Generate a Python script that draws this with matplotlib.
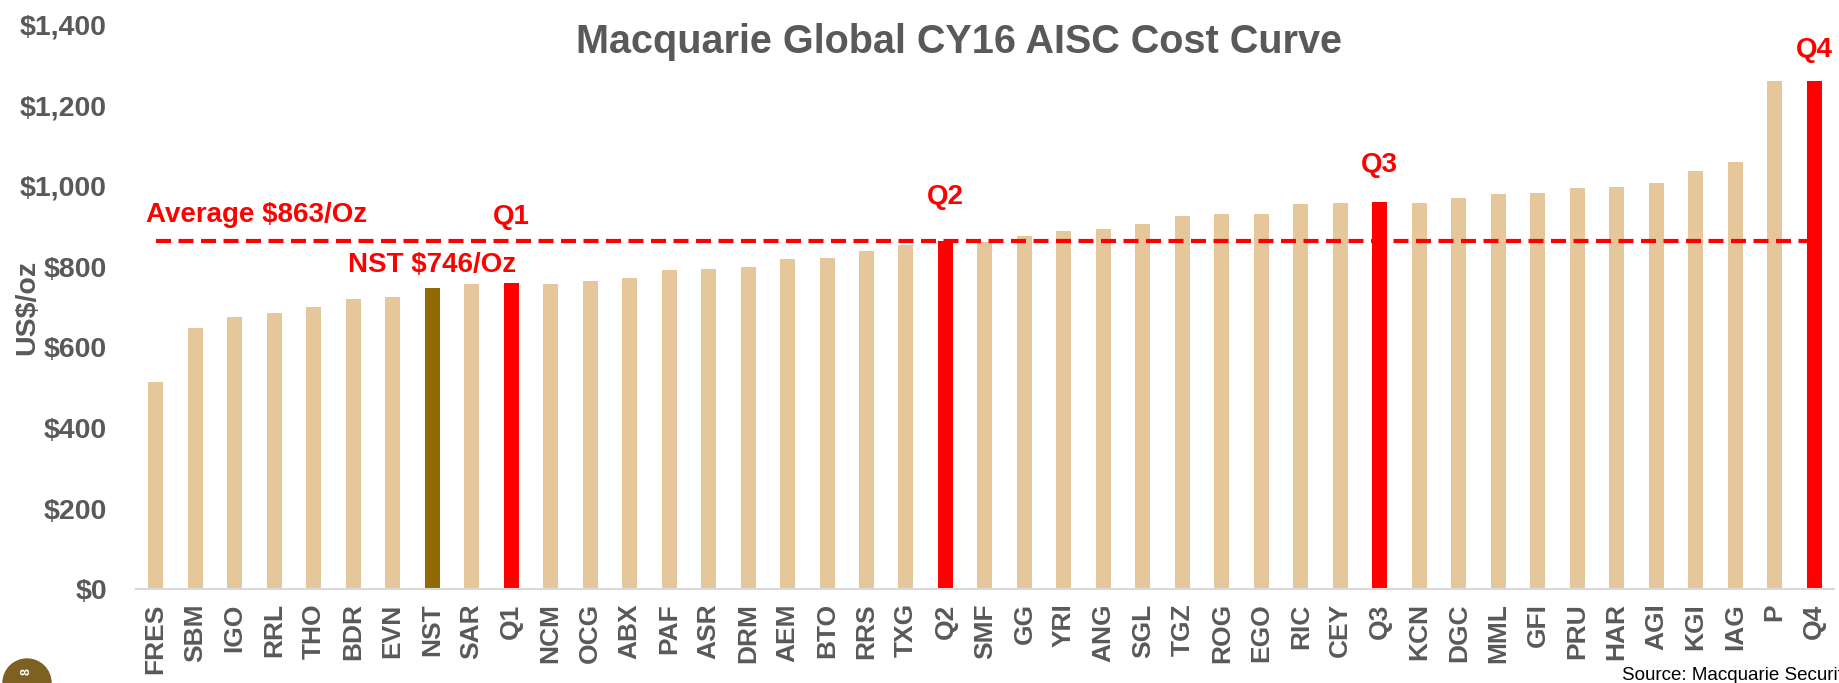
import matplotlib
matplotlib.use("Agg")
import matplotlib.pyplot as plt
from matplotlib.patches import Circle

# data
tickers = ["FRES", "SBM", "IGO", "RRL", "THO", "BDR", "EVN", "NST", "SAR", "Q1",
           "NCM", "OCG", "ABX", "PAF", "ASR", "DRM", "AEM", "BTO", "RRS", "TXG",
           "Q2", "SMF", "GG", "YRI", "ANG", "SGL", "TGZ", "ROG", "EGO", "RIC",
           "CEY", "Q3", "KCN", "DGC", "MML", "GFI", "PRU", "HAR", "AGI", "KGI",
           "IAG", "P", "Q4"]
aisc = [515, 649, 676, 686, 701, 721, 724, 746, 757, 760,
        757, 765, 772, 792, 794, 799, 819, 822, 840, 854,
        863, 862, 877, 888, 893, 906, 926, 930, 930, 955,
        957, 960, 959, 969, 979, 982, 995, 998, 1008, 1037,
        1060, 1260, 1260]
average = 863
quartiles = ["Q1", "Q2", "Q3", "Q4"]
highlight = "NST"
yticks = [0, 200, 400, 600, 800, 1000, 1200, 1400]

TAN = "#E6C69B"
RED = "#FF0000"
GOLD = "#926A04"
GREY = "#595959"
FONT = "Liberation Sans"

colors = []
for t in tickers:
    if t in quartiles:
        colors.append(RED)
    elif t == highlight:
        colors.append(GOLD)
    else:
        colors.append(TAN)

fig = plt.figure(figsize=(18.4, 6.83), dpi=100)
ax = fig.add_axes([0.0739, 0.137, 0.9228, 0.827])
x = list(range(len(tickers)))
ax.bar(x, aisc, width=0.38, color=colors, zorder=2)
ax.plot([0, len(tickers) - 1], [average, average], color=RED, lw=3,
        linestyle=(0, (3.6, 1.8)), zorder=3)

ax.set_xlim(-0.5, len(tickers) - 0.5)
ax.set_ylim(0, 1400)
ax.set_yticks(yticks)
ax.set_yticklabels(["${:,}".format(v) for v in yticks], family=FONT,
                   fontsize=20.5, fontweight="bold", color=GREY)
ax.set_xticks(x)
ax.set_xticklabels(tickers, rotation=90, family=FONT,
                   fontsize=19, fontweight="bold", color=GREY)
ax.tick_params(axis="both", length=0)
ax.tick_params(axis="y", pad=21)
ax.tick_params(axis="x", pad=10)
for s in ["top", "right", "left"]:
    ax.spines[s].set_visible(False)
ax.spines["bottom"].set_color("#D9D9D9")
ax.spines["bottom"].set_linewidth(1.5)

fig.text(27 / 1840, 1 - 307 / 683, "US$/oz", rotation=90, ha="center", va="center",
         family=FONT, fontsize=20.5, fontweight="bold", color=GREY)
fig.text(0.521, 1 - 42 / 683, "Macquarie Global CY16 AISC Cost Curve", ha="center",
         va="center", family=FONT, fontsize=28.5, fontweight="bold", color=GREY)

# annotations
ann = dict(family=FONT, fontsize=20, fontweight="bold", color=RED, va="center")
ax.text(-0.25, 928, "Average $863/Oz", ha="left", **ann)
ax.text(tickers.index("NST"), 804, "NST $746/Oz", ha="center", **ann)
label_y = {"Q1": 923, "Q2": 972, "Q3": 1052, "Q4": 1337}
for q in quartiles:
    ax.text(tickers.index(q), label_y[q], q, ha="center", **ann)

fig.text(1622 / 1840, 1 - 667 / 683, "Source: Macquarie Securities", ha="left",
         va="top", family=FONT, fontsize=13.5, color="black")
fig.patches.append(Circle((27, 0), 24, transform=None, color="#7F6023", zorder=5))
fig.text(27 / 1840, 11 / 683, "8", ha="center", va="center", color="white",
         family=FONT, fontsize=9, fontweight="bold", rotation=90, zorder=6)

fig.savefig("out.png", dpi=100)
